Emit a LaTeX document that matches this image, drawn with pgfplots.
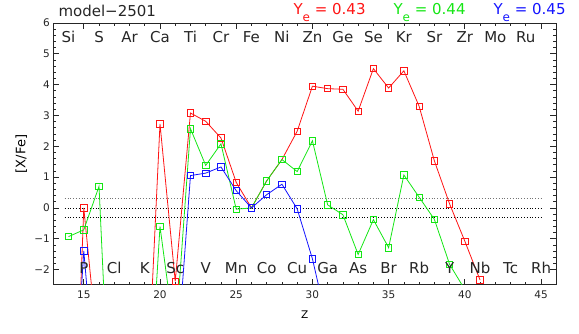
\documentclass[border=0pt]{standalone}
\usepackage{pgfplots}
\pgfplotsset{compat=1.18}
\usepackage{fontspec}
\setmainfont{DejaVu Sans}

\definecolor{yered}{RGB}{255,20,20}
\definecolor{yegreen}{RGB}{20,230,20}
\definecolor{yeblue}{RGB}{20,20,255}

\newcommand{\Ye}{Y\raisebox{-0.42em}{\fontsize{12}{12}\selectfont e}}

\begin{document}
\begin{tikzpicture}
\useasboundingbox (-53.3pt,-48pt) rectangle (525.7pt,285pt);
\begin{axis}[
  at={(0pt,0pt)}, anchor=south west,
  scale only axis, width=503pt, height=262pt,
  xmin=13, xmax=46, ymin=-2.5, ymax=6,
  xtick={15,20,...,45}, minor x tick num=4,
  ytick={-2,-1,0,1,2,3,4,5,6},
  yticklabels={−2,−1,0,1,2,3,4,5,6},
  minor y tick num=4,
  tick align=inside,
  major tick length=6pt, minor tick length=3pt,
  axis line style={line width=1pt, black!85},
  every tick/.style={black!85, line width=0.7pt},
  /pgf/number format/assume math mode=true,
  tick label style={font=\fontsize{10.5}{12}\selectfont, black!85},
  xticklabel style={yshift=-2pt},
  xlabel={Z},
  xlabel style={at={(axis description cs:0.5,-0.1145)}, anchor=center,
                font=\fontsize{10.5}{12}\selectfont},
  ylabel={[X/Fe]},
  ylabel style={at={(axis description cs:-0.0636,0.5)}, anchor=center,
                font=\fontsize{13}{14}\selectfont},
  clip marker paths=true,
  every axis plot/.append style={line width=0.8pt, mark=square, mark size=3.2pt,
                                 mark options={solid, line width=0.8pt}},
]

% reference levels at 0 and +/-0.3 dex
\addplot[black!55, dotted, line width=0.9pt, mark=none] coordinates {(13.75,0.3) (45,0.3)};
\addplot[black, dotted, line width=0.8pt, mark=none] coordinates {(13.75,0) (45,0)};
\addplot[black, dotted, line width=0.8pt, mark=none] coordinates {(13.75,-0.3) (45,-0.3)};

% Ye = 0.43
\addplot[yered] coordinates {
 (14,-13) (15,0.0) (16,-5) (17,-8) (18,-8) (19,-7.7) (20,2.73) (21,-2.38)
 (22,3.08) (23,2.81) (24,2.27) (25,0.83) (26,0.0) (27,0.88) (28,1.57)
 (29,2.49) (30,3.95) (31,3.87) (32,3.85) (33,3.14) (34,4.52) (35,3.89)
 (36,4.45) (37,3.30) (38,1.53) (39,0.13) (40,-1.08) (41,-2.34)
};

% Ye = 0.44
\addplot[yegreen] coordinates {
 (14,-0.93) (15,-0.71) (16,0.70) (17,-10) (18,-10) (19,-8.7) (20,-0.60)
 (21,-4.3) (22,2.57) (23,1.38) (24,2.08) (25,-0.04) (26,0.0) (27,0.88)
 (28,1.57) (29,1.18) (30,2.18) (31,0.10) (32,-0.22) (33,-1.51) (34,-0.38)
 (35,-1.29) (36,1.07) (37,0.35) (38,-0.37) (39,-1.83) (40,-2.65)
};

% Ye = 0.45
\addplot[yeblue] coordinates {
 (14,-9.4) (15,-1.39) (16,-7.2) (17,-9) (18,-9) (19,-9) (20,-9) (21,-5.65)
 (22,1.05) (23,1.13) (24,1.33) (25,0.56) (26,0.0) (27,0.43) (28,0.77)
 (29,-0.03) (30,-1.65) (31,-3.8)
};

% element symbols: even Z on top, odd Z at the bottom
\tikzset{elem/.style={anchor=base, font=\fontsize{15}{16}\selectfont, black!85}}
\foreach \z/\el in {14/Si,16/S,18/Ar,20/Ca,22/Ti,24/Cr,26/Fe,28/Ni,30/Zn,32/Ge,34/Se,36/Kr,38/Sr,40/Zr,42/Mo,44/Ru}
  {\edef\tmp{\noexpand\node[elem] at (axis cs:\z,5.36) {\el};}\tmp}
\foreach \z/\el in {15/P,17/Cl,19/K,21/Sc,23/V,25/Mn,27/Co,29/Cu,31/Ga,33/As,35/Br,37/Rb,39/Y,41/Nb,43/Tc,45/Rh}
  {\edef\tmp{\noexpand\node[elem] at (axis cs:\z,-2.13) {\el};}\tmp}
\end{axis}

\node[anchor=base west, font=\fontsize{15}{16}\selectfont, black!85] at (1.7pt,269pt) {model−2501};
\node[anchor=base west, font=\fontsize{15}{16}\selectfont, text=yered] at (236.7pt,270pt) {\Ye{} = 0.43};
\node[anchor=base west, font=\fontsize{15}{16}\selectfont, text=yegreen] at (336.7pt,270pt) {\Ye{} = 0.44};
\node[anchor=base west, font=\fontsize{15}{16}\selectfont, text=yeblue] at (436.7pt,270pt) {\Ye{} = 0.45};
\end{tikzpicture}
\end{document}
